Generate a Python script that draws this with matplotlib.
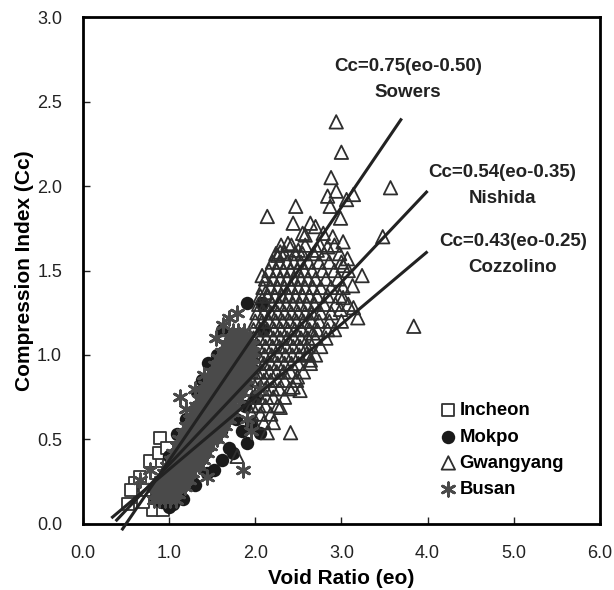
import matplotlib
matplotlib.use("Agg")
import matplotlib.pyplot as plt
from matplotlib.font_manager import FontProperties

plt.rcParams['font.family'] = ['Liberation Sans', 'DejaVu Sans']

# ---- data (void ratio eo, compression index Cc) ----
incheon_e = [0.52, 0.60, 0.66, 0.66, 0.78, 0.81, 0.90, 0.93, 0.72, 0.85, 0.95, 0.70, 0.88, 1.00, 0.98, 0.56]
incheon_cc = [0.12, 0.24, 0.16, 0.28, 0.37, 0.08, 0.51, 0.08, 0.20, 0.30, 0.22, 0.13, 0.42, 0.35, 0.45, 0.20]

mokpo_e = [1.91, 2.08, 1.62, 2.09, 1.56, 1.33, 1.09, 2.06, 1.62, 1.30, 1.16, 0.92, 1.74, 1.28,
           1.45, 1.38, 1.50, 1.20, 1.00, 0.98, 1.05, 1.10, 1.95, 1.85, 1.90, 1.70, 1.52, 1.44,
           1.40, 1.55, 1.65, 1.75, 1.82, 1.70, 1.80, 1.25, 1.35, 1.60, 1.48, 2.00, 1.95, 1.15,
           0.95, 1.78, 1.88, 1.05, 0.85, 1.00, 1.08, 0.95, 1.12]
mokpo_cc = [1.31, 1.31, 1.15, 1.15, 1.00, 0.78, 0.53, 0.54, 0.38, 0.23, 0.15, 0.13, 0.42, 0.24,
            0.95, 0.85, 0.93, 0.62, 0.40, 0.25, 0.20, 0.30, 0.60, 0.55, 0.48, 0.45, 0.32, 0.30,
            0.55, 0.65, 0.72, 0.80, 0.88, 1.05, 1.10, 0.45, 0.40, 0.55, 0.70, 0.75, 0.90, 0.35,
            0.18, 0.62, 0.70, 0.12, 0.15, 0.10, 0.18, 0.22, 0.25]

gwang_out_e = [2.94, 3.00, 2.88, 2.84, 2.94, 3.06, 3.14, 3.57, 2.47, 2.14, 2.44, 2.87, 2.99, 2.64,
               2.70, 2.58, 2.55, 2.79, 2.90, 3.02, 3.48, 2.38, 2.29, 2.26, 2.50, 2.72, 2.84, 3.07,
               3.02, 3.24, 3.13, 2.08, 2.12, 3.14, 3.19, 3.84, 3.02, 2.99, 2.41, 2.14, 2.21, 2.29,
               1.79, 2.64, 2.60, 2.49, 2.44, 2.67, 2.84, 2.52]
gwang_out_cc = [2.38, 2.20, 2.05, 1.94, 1.97, 1.92, 1.95, 1.99, 1.88, 1.82, 1.78, 1.88, 1.81, 1.78,
                1.76, 1.71, 1.72, 1.72, 1.70, 1.67, 1.70, 1.66, 1.61, 1.59, 1.62, 1.62, 1.64, 1.57,
                1.53, 1.47, 1.41, 1.47, 1.37, 1.28, 1.22, 1.17, 1.34, 1.27, 0.54, 0.54, 0.60, 0.69,
                0.40, 0.97, 1.01, 0.87, 0.81, 1.13, 1.15, 0.79]

# dense part of the Gwangyang cloud, one row per Cc level
gwang_rows = [
    (1.65, [2.30, 2.42, 2.58, 2.75, 2.92]),
    (1.60, [2.24, 2.34, 2.46, 2.55, 2.68, 2.80, 2.98]),
    (1.55, [2.20, 2.28, 2.37, 2.45, 2.53, 2.62, 2.74, 2.86, 3.00]),
    (1.50, [2.16, 2.25, 2.33, 2.41, 2.49, 2.57, 2.66, 2.78, 2.92, 3.08]),
    (1.45, [2.12, 2.21, 2.29, 2.37, 2.45, 2.53, 2.61, 2.70, 2.82, 2.96]),
    (1.40, [2.09, 2.18, 2.26, 2.34, 2.42, 2.50, 2.58, 2.67, 2.76, 2.88, 3.02]),
    (1.35, [2.06, 2.15, 2.23, 2.31, 2.39, 2.47, 2.55, 2.63, 2.72, 2.84, 2.98]),
    (1.30, [2.04, 2.12, 2.20, 2.28, 2.36, 2.44, 2.52, 2.60, 2.69, 2.80, 2.93, 3.08]),
    (1.25, [2.02, 2.10, 2.18, 2.26, 2.34, 2.42, 2.50, 2.58, 2.66, 2.76, 2.88]),
    (1.20, [2.00, 2.08, 2.16, 2.24, 2.32, 2.40, 2.48, 2.56, 2.65, 2.74, 2.86, 3.00]),
    (1.15, [1.98, 2.06, 2.14, 2.22, 2.30, 2.38, 2.46, 2.54, 2.63, 2.72, 2.92]),
    (1.10, [1.98, 2.05, 2.13, 2.21, 2.29, 2.37, 2.45, 2.53, 2.61, 2.70, 2.82]),
    (1.05, [1.97, 2.04, 2.12, 2.20, 2.28, 2.36, 2.44, 2.52, 2.60, 2.76]),
    (1.00, [1.96, 2.03, 2.11, 2.19, 2.27, 2.35, 2.43, 2.51, 2.62, 2.70]),
    (0.95, [1.95, 2.02, 2.10, 2.18, 2.26, 2.34, 2.42, 2.50, 2.64]),
    (0.90, [1.95, 2.02, 2.09, 2.17, 2.25, 2.33, 2.41, 2.56]),
    (0.85, [1.96, 2.03, 2.10, 2.18, 2.26, 2.34, 2.48]),
    (0.80, [1.96, 2.04, 2.12, 2.20, 2.28, 2.40]),
    (0.75, [1.97, 2.05, 2.13, 2.21, 2.34]),
    (0.70, [1.96, 2.04, 2.12, 2.26]),
    (0.65, [1.96, 2.06, 2.18]),
    (0.60, [1.98, 2.10]),
]

# the solid Busan core, one row per Cc level
busan_rows = [
    (0.14, [0.82, 0.88, 0.95, 1.01, 1.08]),
    (0.18, [0.84, 0.91, 0.97, 1.04, 1.10]),
    (0.22, [0.87, 0.93, 1.00, 1.06, 1.13, 1.19]),
    (0.26, [0.91, 0.97, 1.04, 1.10, 1.17, 1.23]),
    (0.30, [0.94, 1.01, 1.07, 1.14, 1.20, 1.27]),
    (0.34, [0.98, 1.04, 1.11, 1.17, 1.24, 1.30, 1.35]),
    (0.38, [1.02, 1.08, 1.15, 1.21, 1.28, 1.34, 1.39]),
    (0.42, [1.05, 1.12, 1.18, 1.25, 1.31, 1.38, 1.44]),
    (0.46, [1.09, 1.15, 1.22, 1.28, 1.35, 1.41, 1.48]),
    (0.50, [1.12, 1.19, 1.25, 1.32, 1.38, 1.45, 1.51, 1.56]),
    (0.54, [1.16, 1.22, 1.29, 1.35, 1.42, 1.48, 1.55, 1.60]),
    (0.58, [1.20, 1.26, 1.33, 1.39, 1.46, 1.52, 1.59, 1.65]),
    (0.62, [1.24, 1.30, 1.37, 1.43, 1.50, 1.56, 1.63, 1.69]),
    (0.66, [1.27, 1.34, 1.40, 1.47, 1.53, 1.60, 1.66, 1.73]),
    (0.70, [1.31, 1.37, 1.44, 1.50, 1.57, 1.63, 1.70, 1.77]),
    (0.74, [1.35, 1.41, 1.48, 1.54, 1.61, 1.67, 1.74, 1.81]),
    (0.78, [1.39, 1.45, 1.52, 1.58, 1.65, 1.71, 1.78, 1.85]),
    (0.82, [1.42, 1.49, 1.55, 1.62, 1.68, 1.75, 1.81, 1.88]),
    (0.86, [1.46, 1.52, 1.59, 1.65, 1.72, 1.78, 1.85, 1.91]),
    (0.90, [1.50, 1.56, 1.63, 1.69, 1.76, 1.82, 1.89, 1.94]),
    (0.94, [1.53, 1.60, 1.66, 1.73, 1.79, 1.86, 1.92, 1.96]),
    (0.98, [1.57, 1.63, 1.70, 1.76, 1.83, 1.89, 1.96]),
    (1.02, [1.61, 1.67, 1.74, 1.80, 1.87, 1.93, 1.98]),
    (1.06, [1.65, 1.71, 1.78, 1.84, 1.91, 1.96]),
    (1.10, [1.69, 1.75, 1.82, 1.88, 1.94]),
    (1.14, [1.74, 1.80, 1.87]),
]
busan_out_e = [1.13, 1.86, 1.79, 1.63, 1.40, 1.44, 0.66, 0.78, 0.82, 1.70, 1.55, 1.20, 1.30, 1.95, 2.05, 1.90]
busan_out_cc = [0.75, 0.32, 1.25, 1.18, 0.88, 0.28, 0.26, 0.32, 0.22, 1.22, 1.10, 0.68, 0.80, 0.55, 0.80, 0.62]

# empirical correlations Cc = a (eo - b), drawn between eo_start and eo_end
eq_names = ['Sowers', 'Nishida', 'Cozzolino']
eq_a = [0.75, 0.54, 0.43]
eq_b = [0.50, 0.35, 0.25]
eq_start = [0.45, 0.38, 0.33]
eq_end = [3.70, 4.00, 4.00]
eq_label_x = [3.77, 4.87, 4.99]
eq_label_y = [2.71, 2.08, 1.67]

gwang_e = gwang_out_e + [e for cc, row in gwang_rows for e in row]
gwang_cc = gwang_out_cc + [cc for cc, row in gwang_rows for e in row]
busan_e = [e for cc, row in busan_rows for e in row] + busan_out_e
busan_cc = [cc for cc, row in busan_rows for e in row] + busan_out_cc

fig = plt.figure(figsize=(6.14, 5.90), dpi=100)
ax = fig.add_axes([0.135, 0.112, 0.842, 0.859])

ms = 85
ax.scatter(incheon_e, incheon_cc, s=ms, marker='s', facecolors='white', edgecolors='#333333',
           linewidths=1.3, label='Incheon', zorder=2)
ax.scatter(mokpo_e, mokpo_cc, s=ms * 1.1, marker='o', color='#1a1a1a', linewidths=0,
           label='Mokpo', zorder=3)
ax.scatter(gwang_e, gwang_cc, s=ms * 1.1, marker='^', facecolors='none', edgecolors='#2e2e2e',
           linewidths=1.3, label='Gwangyang', zorder=4)
ax.scatter(busan_e, busan_cc, s=ms * 1.1, marker=(6, 2, 0), color='#4a4a4a', linewidths=2,
           label='Busan', zorder=5)

for i in range(len(eq_names)):
    xs = [eq_start[i], eq_end[i]]
    ys = [eq_a[i] * (x - eq_b[i]) for x in xs]
    ax.plot(xs, ys, color='#222222', lw=2.2, zorder=6, clip_on=False, solid_capstyle='butt')
    ax.text(eq_label_x[i], eq_label_y[i], 'Cc=%.2f(eo-%.2f)' % (eq_a[i], eq_b[i]),
            ha='center', va='center', fontsize=13.5, fontweight='bold', color='#222222')
    ax.text(eq_label_x[i], eq_label_y[i] - 0.155, eq_names[i],
            ha='center', va='center', fontsize=13.5, fontweight='bold', color='#222222')

ax.set_xlim(0, 6)
ax.set_ylim(0, 3)
ax.set_xticks([0, 1, 2, 3, 4, 5, 6])
ax.set_yticks([0, 0.5, 1.0, 1.5, 2.0, 2.5, 3.0])
ax.set_xticklabels(['%.1f' % v for v in ax.get_xticks()])
ax.set_yticklabels(['%.1f' % v for v in ax.get_yticks()])
ax.tick_params(direction='in', length=5, width=1, labelsize=13, colors='#222222', pad=15)
for sp in ax.spines.values():
    sp.set_linewidth(2)
    sp.set_color('black')

ax.set_xlabel('Void Ratio (eo)', fontsize=15, fontweight='bold', labelpad=5)
ax.set_ylabel('Compression Index (Cc)', fontsize=15, fontweight='bold', labelpad=2)

leg = ax.legend(loc='upper left', bbox_to_anchor=(0.689, 0.24), frameon=False,
                prop=FontProperties(family='Liberation Sans', weight='bold', size=13.3),
                handletextpad=0.1, labelspacing=0.5, handlelength=1.0, borderaxespad=0,
                borderpad=0)

fig.savefig('out.png', dpi=100)
